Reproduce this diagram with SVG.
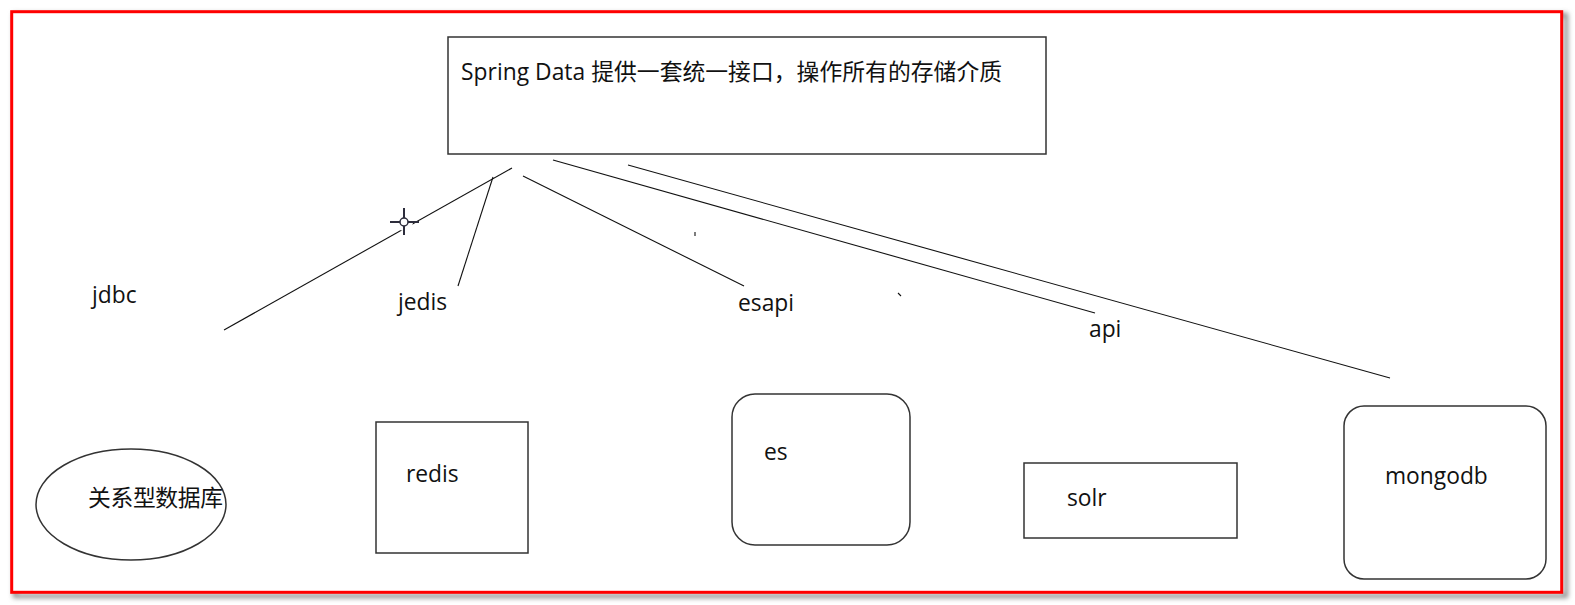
<svg xmlns="http://www.w3.org/2000/svg" width="1575" height="605" viewBox="0 0 1575 605">
  <defs>
    <filter id="shadow" x="-5%" y="-5%" width="110%" height="115%">
      <feGaussianBlur stdDeviation="2.5"/>
    </filter>
    <style>
      .lbl { font-family: "Open Sans", "Noto Sans CJK SC", sans-serif; font-size: 22.8px; fill: #111; }
      .box { fill: #fff; stroke: #333; stroke-width: 1.5; }
      .conn { stroke: #111; stroke-width: 1.1; fill: none; }
      .cur { stroke: #2d2d3c; stroke-width: 2; fill: none; }
    </style>
  </defs>
  <rect width="1575" height="605" fill="#fff"/>
  <!-- frame with shadow -->
  <rect x="15" y="15" width="1551" height="581" fill="none" stroke="#888" stroke-width="4" filter="url(#shadow)"/>
  <rect x="11.7" y="11.7" width="1550" height="580.6" fill="#fff" stroke="#ff0000" stroke-width="3"/>

  <!-- connectors -->
  <g id="connectors">
    <line class="conn" x1="224" y1="330" x2="512" y2="168"/>
    <line class="conn" x1="493" y1="177" x2="458" y2="286"/>
    <line class="conn" x1="523" y1="176" x2="744" y2="286"/>
    <line class="conn" x1="553" y1="160" x2="1095" y2="313"/>
    <line class="conn" x1="628" y1="165" x2="1390" y2="378"/>
    <line class="conn" x1="695" y1="232" x2="695" y2="236"/>
    <line class="conn" x1="898" y1="293" x2="901" y2="296"/>
  </g>

  <!-- cursor mark -->
  <g id="cursor">
    <circle cx="404" cy="222" r="9" fill="#fff"/>
    <line class="cur" x1="390" y1="222" x2="419" y2="222"/>
    <line class="cur" x1="404" y1="208" x2="404" y2="235"/>
    <circle cx="404" cy="222" r="4" fill="#fff" stroke="#2d2d3c" stroke-width="1.5"/>
  </g>

  <g id="node-springdata">
    <rect class="box" x="448" y="37" width="598" height="117"/>
    <text class="lbl" x="461" y="80" font-size="22.5" textLength="541" lengthAdjust="spacing">Spring Data 提供一套统一接口，操作所有的存储介质</text>
  </g>

  <g id="label-jdbc"><text class="lbl" x="92" y="303">jdbc</text></g>
  <g id="label-jedis"><text class="lbl" x="398" y="310">jedis</text></g>
  <g id="label-esapi"><text class="lbl" x="738" y="311">esapi</text></g>
  <g id="label-api"><text class="lbl" x="1089" y="337">api</text></g>

  <g id="node-rdb">
    <ellipse class="box" cx="131" cy="504.5" rx="95" ry="55.5"/>
    <text class="lbl" x="88" y="506" textLength="135" lengthAdjust="spacing">关系型数据库</text>
  </g>
  <g id="node-redis">
    <rect class="box" x="376" y="422" width="152" height="131"/>
    <text class="lbl" x="406" y="482">redis</text>
  </g>
  <g id="node-es">
    <rect class="box" x="732" y="394" width="178" height="151" rx="23" ry="23"/>
    <text class="lbl" x="764" y="460">es</text>
  </g>
  <g id="node-solr">
    <rect class="box" x="1024" y="463" width="213" height="75"/>
    <text class="lbl" x="1067" y="506">solr</text>
  </g>
  <g id="node-mongodb">
    <rect class="box" x="1344" y="406" width="202" height="173" rx="20" ry="20"/>
    <text class="lbl" x="1385" y="484">mongodb</text>
  </g>
</svg>
